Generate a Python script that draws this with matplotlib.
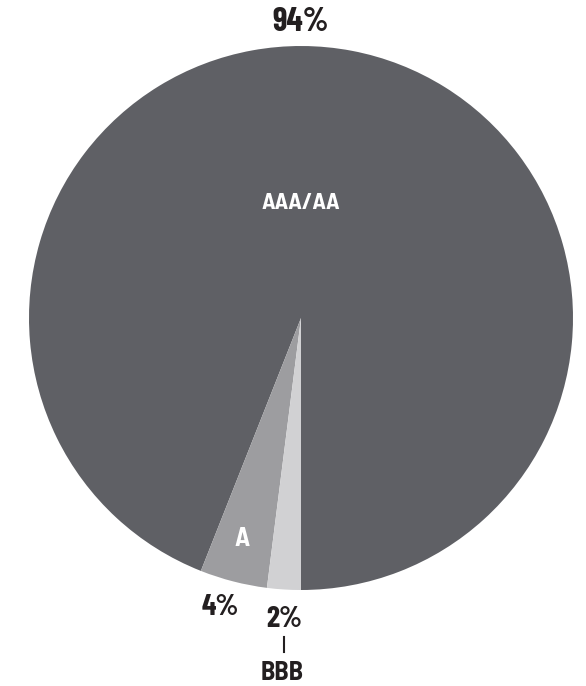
import matplotlib
matplotlib.use("Agg")
import matplotlib.pyplot as plt
from matplotlib import font_manager

labels = ["AAA/AA", "A", "BBB"]
values = [94, 4, 2]
pct_labels = ["94%", "4%", "2%"]
colors = ["#5f6065", "#9d9da0", "#d1d1d3"]

names = {f.name for f in font_manager.fontManager.ttflist}
fam = "Barlow Condensed" if "Barlow Condensed" in names else "DejaVu Sans"
fam2 = "Barlow Semi Condensed" if "Barlow Semi Condensed" in names else fam

W, H = 586, 686
fig = plt.figure(figsize=(W / 100, H / 100), dpi=100)
ax = fig.add_axes([0, 0, 1, 1])

cx, cy, r = 301, H - 318, 272
ax.pie(values, colors=colors, startangle=-90, counterclock=True,
       center=(cx, cy), radius=r, frame=True,
       wedgeprops=dict(linewidth=0))
ax.set_xlim(0, W)
ax.set_ylim(0, H)
ax.set_aspect("equal")
ax.axis("off")

tc = "#231f20"
kw = dict(weight="bold", ha="center", va="baseline")
ax.text(301, H - 31, pct_labels[0], fontsize=24, color=tc, family=fam, **kw)
ax.text(301, H - 209, labels[0], fontsize=17, color="white", family=fam2, **kw)
ax.text(242, H - 546, labels[1], fontsize=19, color="white", family=fam2, **kw)
ax.text(220, H - 615, pct_labels[1], fontsize=21.5, color=tc, family=fam, **kw)
ax.text(284, H - 627, pct_labels[2], fontsize=21.5, color=tc, family=fam, **kw)
ax.plot([283.5, 283.5], [H - 637, H - 652], color=tc, lw=1.5)
ax.text(282, H - 680, labels[2], fontsize=19, color=tc, family=fam2, **kw)

fig.savefig("out.png", dpi=100)
